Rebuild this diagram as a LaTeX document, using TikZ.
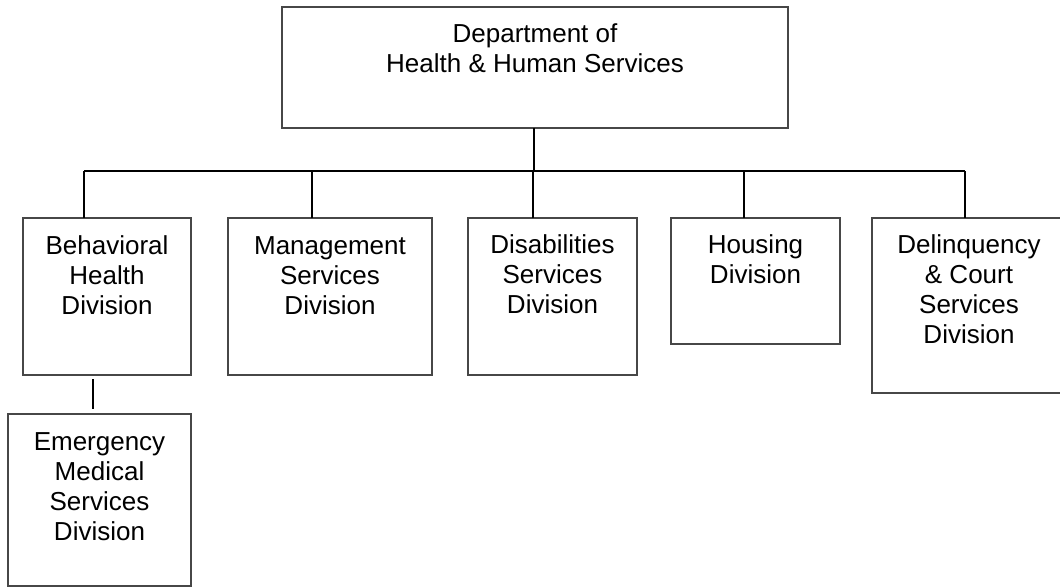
\documentclass[tikz,border=0pt]{standalone}
\usepackage{fontspec}
\setmainfont{Liberation Sans}
\usetikzlibrary{calc}
\begin{document}
\begin{tikzpicture}[x=1pt,y=-1pt,
  box/.style={draw=black!72, line width=1.3pt, rectangle, inner sep=0pt, outer sep=0pt},
  lbl/.style={anchor=north, inner sep=0pt, align=center, font=\fontsize{26}{30}\selectfont},
  conn/.style={draw=black, line width=1.3pt}]
\useasboundingbox (0,0) rectangle (1060,587);
% boxes
\node[box, minimum width=506pt, minimum height=121pt] (top) at (535,67.5) {};
\node[box, minimum width=168pt, minimum height=157pt] (bh) at (107,296.5) {};
\node[box, minimum width=204pt, minimum height=157pt] (ms) at (330,296.5) {};
\node[box, minimum width=169pt, minimum height=157pt] (ds) at (552.5,296.5) {};
\node[box, minimum width=169pt, minimum height=126pt] (hd) at (755.5,281) {};
\node[box, minimum width=194pt, minimum height=175pt] (dc) at (969,305.5) {};
\node[box, minimum width=183pt, minimum height=172pt] (em) at (99.5,500) {};
% labels
\node[lbl] (ttop) at ($(top.north)+(0,14)$) {\strut Department of\\Health \& Human Services};
\node[lbl] (tbh) at ($(bh.north)+(0,15)$) {\strut Behavioral\\Health\\Division};
\node[lbl] (tms) at ($(ms.north)+(0,15)$) {\strut Management\\Services\\Division};
\node[lbl] (tds) at ($(ds.north)+(0,14)$) {\strut Disabilities\\Services\\Division};
\node[lbl] (thd) at ($(hd.north)+(0,14)$) {\strut Housing\\Division};
\node[lbl] (tdc) at ($(dc.north)+(0,14)$) {\strut Delinquency\\\& Court\\Services\\Division};
\node[lbl] (tem) at ($(em.north)+(0,15)$) {\strut Emergency\\Medical\\Services\\Division};
% connectors
\coordinate (bus) at (534,171);
\coordinate (j1) at (84,171);
\coordinate (j2) at (312,171);
\coordinate (j3) at (533,171);
\coordinate (j4) at (744,171);
\coordinate (j5) at (965,171);
\draw[conn] (top.south -| bus) -- (bus);
\draw[conn] (j1) -- (j5);
\draw[conn] (j1) -- (j1 |- bh.north);
\draw[conn] (j2) -- (j2 |- ms.north);
\draw[conn] (j3) -- (j3 |- ds.north);
\draw[conn] (j4) -- (j4 |- hd.north);
\draw[conn] (j5) -- (j5 |- dc.north);
\coordinate (e1) at (93,379);
\coordinate (e2) at (93,409);
\draw[conn] (e1) -- (e2);
\end{tikzpicture}
\end{document}
